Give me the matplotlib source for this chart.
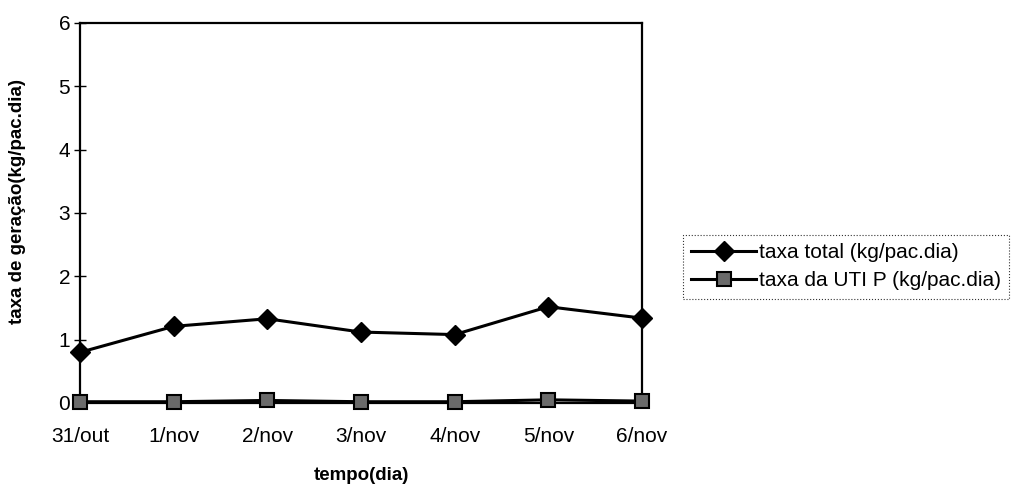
import numpy as np
import matplotlib.pyplot as plt

plt.rcParams['font.family'] = ['Liberation Sans', 'DejaVu Sans']

# dados
dias = ['31/out', '1/nov', '2/nov', '3/nov', '4/nov', '5/nov', '6/nov']
taxa_total = [0.80, 1.21, 1.33, 1.12, 1.08, 1.52, 1.34]
taxa_uti = [0.02, 0.02, 0.04, 0.02, 0.02, 0.05, 0.03]

fig = plt.figure(figsize=(10.15, 4.87), dpi=100)
ax = fig.add_axes([0.0788, 0.1725, 0.5537, 0.7803])

x = np.arange(len(dias))
ax.plot(x, taxa_total, color='black', lw=2.2, marker='D', ms=10,
        mfc='black', mec='black', label='taxa total (kg/pac.dia)', clip_on=False, zorder=3)
ax.plot(x, taxa_uti, color='black', lw=2.2, marker='s', ms=10,
        mfc='#6a6a6a', mec='black', mew=1.5, label='taxa da UTI P (kg/pac.dia)',
        clip_on=False, zorder=3)

ax.set_xlim(0, len(dias) - 1)
ax.set_ylim(0, 6)
ax.set_xticks(x)
ax.set_xticklabels(dias)
ax.set_yticks(range(0, 7))
ax.tick_params(axis='y', direction='inout', length=8, width=1, labelsize=15, pad=3)
ax.tick_params(axis='x', length=0, labelsize=15, pad=17)
for s in ax.spines.values():
    s.set_linewidth(1.6)

ax.set_xlabel('tempo(dia)', fontsize=13.5, fontweight='bold')
ax.xaxis.set_label_coords(0.5, -0.168)
ax.set_ylabel('taxa de geração(kg/pac.dia)', fontsize=13.5, fontweight='bold')
ax.yaxis.set_label_coords(-0.096, 0.53)

leg = fig.legend(loc='upper left', bbox_to_anchor=(0.673, 0.518), fontsize=15,
                 frameon=True, fancybox=False, edgecolor='black', handlelength=3.1,
                 handletextpad=0.15, borderpad=0.4, labelspacing=0.45, borderaxespad=0)
leg.get_frame().set_linewidth(0.8)
leg.get_frame().set_linestyle(':')

plt.savefig('out.png', dpi=100)
